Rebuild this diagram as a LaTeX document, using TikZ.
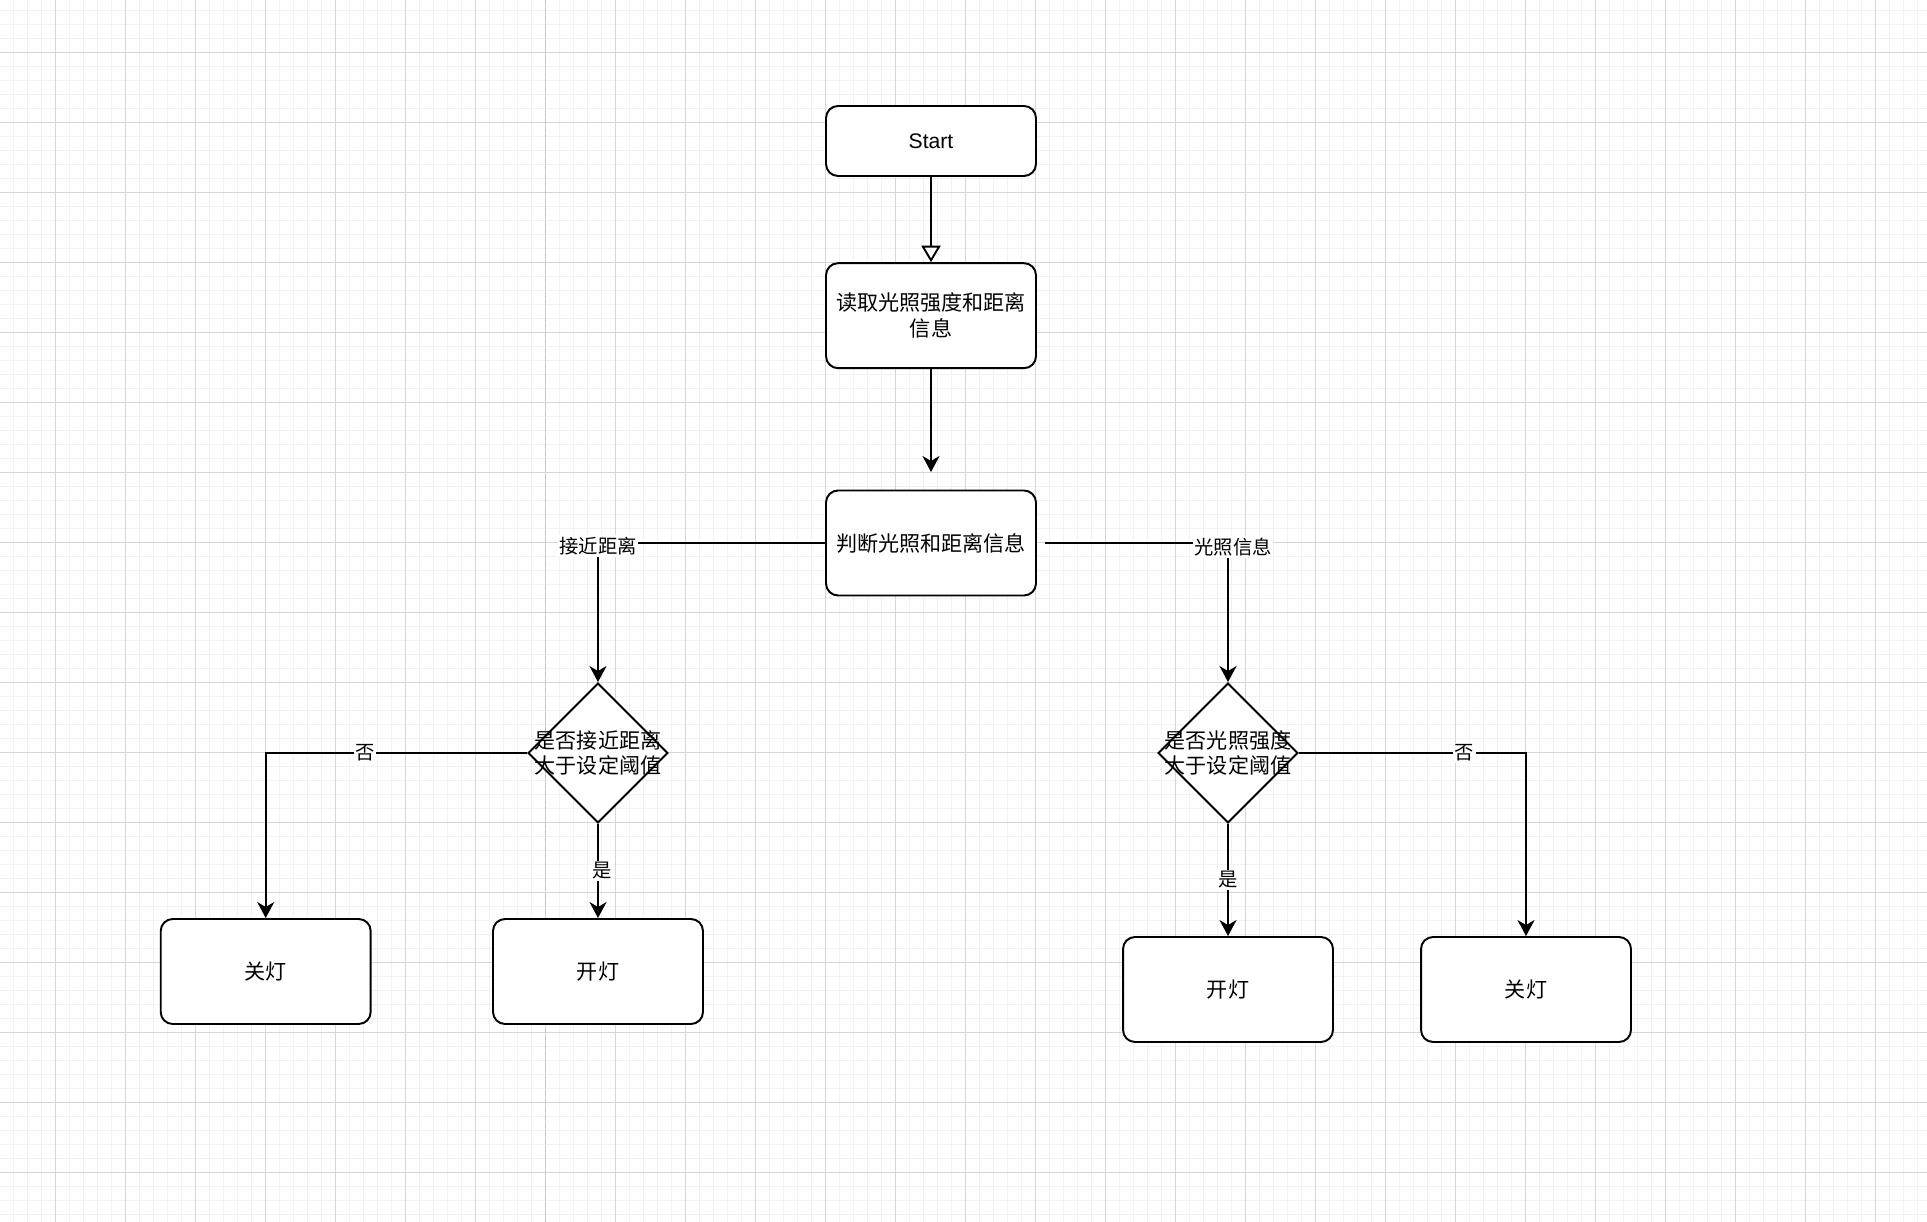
\documentclass[tikz,border=0pt]{standalone}
\usepackage{fontspec,xcolor}
\setmainfont{Liberation Sans}
\newfontfamily\cjk{Noto Sans CJK SC}
\usetikzlibrary{shapes.geometric,arrows.meta}
\definecolor{gridfine}{HTML}{F2F2F2}
\definecolor{gridmain}{HTML}{D6D6D6}
\definecolor{pagebreak}{HTML}{C4C4C4}

\begin{document}
\begin{tikzpicture}[x=0.02cm,y=-0.02cm,
    procbox/.style={draw,line width=1.1pt,rounded corners=0.24cm,fill=white,minimum width=4.2cm,minimum height=2.1cm,align=center,font=\cjk\fontsize{12}{14.7}\selectfont},
    decision/.style={draw,diamond,line width=1.1pt,fill=white,minimum width=2.8cm,minimum height=2.8cm,inner sep=0pt},
    decisiontext/.style={align=center,inner sep=0pt,font=\cjk\fontsize{12}{14.7}\selectfont},
    flow/.style={line width=1.1pt,-{Stealth[length=0.32cm,width=0.34cm,inset=0.1cm]}},
    branchtext/.style={fill=white,inner sep=1pt,font=\cjk\fontsize{11}{13}\selectfont}]
    \useasboundingbox (0,0) rectangle (1927,1222);
    \fill[white] (0,0) rectangle (1927,1222);
    \foreach \gx in {13.5,27.5,...,1927} \draw[gridfine,line width=0.6pt] (\gx,0) -- (\gx,1222);
    \foreach \gy in {10.3,24.3,...,1222} \draw[gridfine,line width=0.6pt] (0,\gy) -- (1927,\gy);
    \foreach \gx in {55.5,125.5,...,1927} \draw[gridmain,line width=0.55pt] (\gx,0) -- (\gx,1222);
    \foreach \gy in {52.3,122.3,...,1222} \draw[gridmain,line width=0.55pt] (0,\gy) -- (1927,\gy);
    \draw[pagebreak,line width=0.8pt,dash pattern=on 3pt off 1.5pt] (545.7,0) -- (545.7,1222);

    \node[procbox,minimum height=1.4cm,font=\fontsize{12}{14.7}\selectfont] (start) at (931,141) {Start};
    \node[procbox] (read) at (931,315.7) {读取光照强度和距离\\信息};
    \node[procbox] (judge) at (931,543) {判断光照和距离信息};
    \coordinate (judgein) at (931,472);
    \coordinate (judgeout) at (1045,543);

    \node[decision,label={[decisiontext]center:{是否接近距离\\大于设定阈值}}] (distq) at (598,753) {};
    \node[decision,label={[decisiontext]center:{是否光照强度\\大于设定阈值}}] (lightq) at (1228,753) {};

    \node[procbox] (offleft) at (265.7,971.5) {关灯};
    \node[procbox] (onleft) at (598,971.5) {开灯};
    \node[procbox] (onright) at (1228,989.5) {开灯};
    \node[procbox] (offright) at (1526,989.5) {关灯};

    \draw[line width=1.1pt,-{Triangle[length=0.33cm,width=0.38cm,fill=white]}] (start) -- (read);
    \draw[flow] (read) -- (judgein);
    \draw[flow] (judge.west) -| node[branchtext,pos=0.5,yshift=-0.06cm]{接近距离} (distq.north);
    \draw[flow] (judgeout) -| node[branchtext,pos=0.5,xshift=0.1cm,yshift=-0.08cm]{光照信息} (lightq.north);
    \draw[flow] (distq.west) -| node[branchtext,pos=0.31]{否} (offleft.north);
    \draw[flow] (distq.south) -- node[branchtext,xshift=0.08cm]{是} (onleft.north);
    \draw[flow] (lightq.south) -- node[branchtext]{是} (onright.north);
    \draw[flow] (lightq.east) -| node[branchtext,pos=0.364]{否} (offright.north);
\end{tikzpicture}
\end{document}
